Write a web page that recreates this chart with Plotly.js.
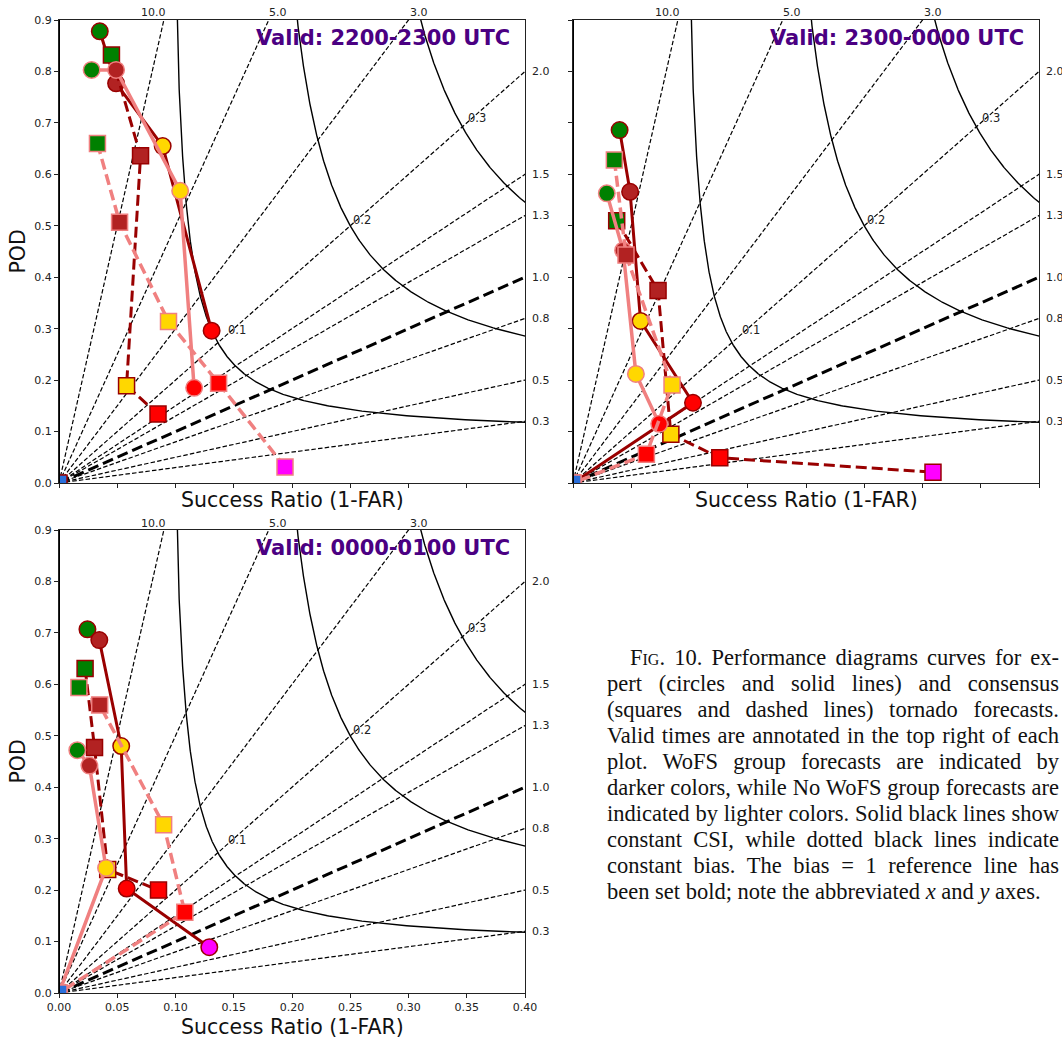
<!DOCTYPE html>
<html>
<head>
<meta charset="utf-8">
<script src="https://cdn.plot.ly/plotly-3.0.1.min.js"></script>
<style>
  html, body { margin: 0; padding: 0; background: #ffffff; }
  #chart { position: absolute; left: 0; top: 0; width: 1062px; height: 1038px; }
  #caption { position: absolute; left: 607px; top: 645px; width: 452px; z-index: 10;
             font-family: "Liberation Serif", "Times New Roman", serif; font-size: 22.5px;
             line-height: 26px; color: #111; }
  #caption div { text-align: justify; text-align-last: justify; white-space: nowrap; }
  #caption div.last { text-align: left; text-align-last: left; }
  .sc { font-variant: small-caps; }
</style>
</head>
<body>
<div id="chart"></div>
<div id="caption">
  <div style="text-indent:23px"><span class="sc">Fig</span>. 10. Performance diagrams curves for ex-</div>
  <div>pert (circles and solid lines) and consensus</div>
  <div>(squares and dashed lines) tornado forecasts.</div>
  <div>Valid times are annotated in the top right of each</div>
  <div>plot. WoFS group forecasts are indicated by</div>
  <div>darker colors, while No WoFS group forecasts are</div>
  <div>indicated by lighter colors. Solid black lines show</div>
  <div>constant CSI, while dotted black lines indicate</div>
  <div>constant bias. The bias = 1 reference line has</div>
  <div class="last">been set bold; note the abbreviated <i>x</i> and <i>y</i> axes.</div>
</div>
<script>
// ---------------- DATA ----------------
const panelTitles = ['Valid: 2200-2300 UTC', 'Valid: 2300-0000 UTC', 'Valid: 0000-0100 UTC'];
const biasValues = [0.3, 0.5, 0.8, 1.0, 1.3, 1.5, 2.0, 3.0, 5.0, 10.0];
const csiValues = [0.1, 0.2, 0.3];
const csiLabels = ['0.1', '0.2', '0.3'];
const xTickLabels = ['0.00', '0.05', '0.10', '0.15', '0.20', '0.25', '0.30', '0.35', '0.40'];
const yTickLabels = ['0.0', '0.1', '0.2', '0.3', '0.4', '0.5', '0.6', '0.7', '0.8', '0.9'];
// probability thresholds (marker face colours follow these levels)
const thresholdLevels = ['2%', '5%', '10%', '15%', '30%', '45%'];

// Panel 1: Valid 2200-2300 UTC
const p1ExpertWoFS_SR    = [0.035, 0.049, 0.089, 0.131, null, null];
const p1ExpertWoFS_POD   = [0.878, 0.777, 0.655, 0.296, null, null];
const p1ConsWoFS_SR      = [0.045, 0.070, 0.058, 0.085, null, 0.0];
const p1ConsWoFS_POD     = [0.832, 0.636, 0.189, 0.134, null, 0.0];
const p1ExpertNoWoFS_SR  = [0.028, 0.049, 0.104, 0.116, null, null];
const p1ExpertNoWoFS_POD = [0.803, 0.803, 0.568, 0.185, null, null];
const p1ConsNoWoFS_SR    = [0.033, 0.052, 0.094, 0.137, 0.194, null];
const p1ConsNoWoFS_POD   = [0.660, 0.507, 0.314, 0.194, 0.031, null];

// Panel 2: Valid 2300-0000 UTC
const p2ExpertWoFS_SR    = [0.040, 0.049, 0.058, 0.103, 0.0, null];
const p2ExpertWoFS_POD   = [0.686, 0.566, 0.315, 0.156, 0.0, null];
const p2ConsWoFS_SR      = [0.0375, 0.073, 0.084, 0.126, 0.309, null];
const p2ConsWoFS_POD     = [0.510, 0.374, 0.095, 0.049, 0.021, null];
const p2ExpertNoWoFS_SR  = [0.029, 0.043, 0.054, 0.074, null, null];
const p2ExpertNoWoFS_POD = [0.563, 0.452, 0.212, 0.115, null, null];
const p2ConsNoWoFS_SR    = [0.0355, 0.0455, 0.085, 0.063, 0.0, 0.0];
const p2ConsNoWoFS_POD   = [0.628, 0.443, 0.1905, 0.056, 0.0, 0.0];

// Panel 3: Valid 0000-0100 UTC
const p3ExpertWoFS_SR    = [0.0244, 0.0346, 0.0534, 0.0581, 0.129, null];
const p3ExpertWoFS_POD   = [0.707, 0.686, 0.480, 0.203, 0.089, null];
const p3ConsWoFS_SR      = [0.0224, 0.0305, 0.0418, 0.0854, null, null];
const p3ConsWoFS_POD     = [0.631, 0.477, 0.240, 0.200, null, null];
const p3ExpertNoWoFS_SR  = [0.0157, 0.0261, 0.0404, 0.0, null, null];
const p3ExpertNoWoFS_POD = [0.472, 0.442, 0.243, 0.0, null, null];
const p3ConsNoWoFS_SR    = [0.0171, 0.0349, 0.0898, 0.108, 0.0, 0.0];
const p3ConsNoWoFS_POD   = [0.594, 0.560, 0.327, 0.157, 0.0, 0.0];

// ---------------- STYLE ----------------
const thresholdColors = ['#008000', '#B22222', '#FFD700', '#FF0000', '#FF00FF', '#2a6fdb'];
const DARK = '#990000', LIGHT = '#F08080';
const seriesStyles = {
  expertWoFS:   {line: DARK,  width: 3,   dash: 'solid',    symbol: 'circle', size: 16.5, edge: DARK},
  consWoFS:     {line: DARK,  width: 3,   dash: '11px,5px', symbol: 'square', size: 16,   edge: DARK},
  expertNoWoFS: {line: LIGHT, width: 3.5, dash: 'solid',    symbol: 'circle', size: 16.5, edge: LIGHT},
  consNoWoFS:   {line: LIGHT, width: 3.5, dash: '11px,5px', symbol: 'square', size: 16,   edge: LIGHT}
};
const W = 1062, H = 1038;
const FONT = 'DejaVu Sans, sans-serif';
const csiLabelPos = [[0.1528, 0.2974], [0.2601, 0.5113], [0.3585, 0.7095]];
const topBiasShift = {3: 10, 5: 9, 10: -10};

const panels = [
  {px: [59, 525], py: [20, 483], showX: false, showY: true, xlabY: 500,
   series: [['expertWoFS', p1ExpertWoFS_SR, p1ExpertWoFS_POD], ['consWoFS', p1ConsWoFS_SR, p1ConsWoFS_POD],
            ['expertNoWoFS', p1ExpertNoWoFS_SR, p1ExpertNoWoFS_POD], ['consNoWoFS', p1ConsNoWoFS_SR, p1ConsNoWoFS_POD]]},
  {px: [573, 1039], py: [20, 483], showX: false, showY: false, xlabY: 500,
   series: [['expertWoFS', p2ExpertWoFS_SR, p2ExpertWoFS_POD], ['consWoFS', p2ConsWoFS_SR, p2ConsWoFS_POD],
            ['expertNoWoFS', p2ExpertNoWoFS_SR, p2ExpertNoWoFS_POD], ['consNoWoFS', p2ConsNoWoFS_SR, p2ConsNoWoFS_POD]]},
  {px: [59, 525], py: [530, 993], showX: true, showY: true, xlabY: 1027,
   series: [['expertWoFS', p3ExpertWoFS_SR, p3ExpertWoFS_POD], ['consWoFS', p3ConsWoFS_SR, p3ConsWoFS_POD],
            ['expertNoWoFS', p3ExpertNoWoFS_SR, p3ExpertNoWoFS_POD], ['consNoWoFS', p3ConsNoWoFS_SR, p3ConsNoWoFS_POD]]}
];

function csiCurve(c) {
  // sample along rays from the origin (angle in pixel space) for a smooth curve
  const xs = [], ys = [];
  const n = 600, aspect = 1165 / 514.4;
  for (let k = 1; k < n; k++) {
    const th = (Math.PI / 2) * k / n;
    const b = Math.tan(th) * aspect;
    const sr = (1 + 1 / b) / (1 / c + 1);
    const pod = b * sr;
    if (sr <= 0.6 && pod <= 1.2) { xs.push(sr); ys.push(pod); }
  }
  return {xs, ys};
}

const traces = [], annotations = [], shapes = [];
const layout = {
  width: W, height: H, margin: {l: 0, r: 0, t: 0, b: 0},
  paper_bgcolor: '#ffffff', plot_bgcolor: '#ffffff', showlegend: false,
  font: {family: FONT, color: '#000'}
};
const xTickVals = xTickLabels.map(parseFloat);
const yTickVals = yTickLabels.map(parseFloat);

panels.forEach((p, i) => {
  const xa = i === 0 ? 'x' : 'x' + (i + 1);
  const ya = i === 0 ? 'y' : 'y' + (i + 1);
  const axisCommon = {
    showline: true, mirror: true, linecolor: '#222', linewidth: 1,
    ticks: 'outside', ticklen: 4, tickwidth: 1, tickcolor: '#222',
    showgrid: false, zeroline: false, fixedrange: true, automargin: false,
    tickfont: {family: FONT, size: 11, color: '#222'}, tickmode: 'array'
  };
  layout['xaxis' + (i === 0 ? '' : i + 1)] = Object.assign({}, axisCommon, {
    domain: [p.px[0] / W, p.px[1] / W], range: [0, 0.4], anchor: ya,
    tickvals: xTickVals, ticktext: xTickLabels, showticklabels: p.showX
  });
  layout['yaxis' + (i === 0 ? '' : i + 1)] = Object.assign({}, axisCommon, {
    domain: [1 - p.py[1] / H, 1 - p.py[0] / H], range: [0, 0.9], anchor: xa,
    tickvals: yTickVals, ticktext: yTickLabels, showticklabels: p.showY
  });

  // constant-bias lines
  biasValues.forEach(b => {
    traces.push({x: [0, 0.5], y: [0, 0.5 * b], xaxis: xa, yaxis: ya, mode: 'lines',
      line: {color: '#000', width: b === 1 ? 3 : 1.2, dash: b === 1 ? '11px,5px' : '4.5px,2.2px'},
      hoverinfo: 'skip'});
    if (b <= 2) {
      annotations.push({x: 0.4, y: 0.4 * b, xref: xa, yref: ya, text: b.toFixed(1), showarrow: false,
        xanchor: 'left', yanchor: 'middle', xshift: 5, font: {family: FONT, size: 11, color: '#222'}});
    } else {
      annotations.push({x: 0.9 / b, y: 0.9, xref: xa, yref: ya, text: b.toFixed(1), showarrow: false,
        xanchor: 'center', yanchor: 'middle', yshift: 7, xshift: topBiasShift[b],
        font: {family: FONT, size: 11, color: '#222'}});
    }
  });

  // constant-CSI contours
  csiValues.forEach((c, k) => {
    const cv = csiCurve(c);
    traces.push({x: cv.xs, y: cv.ys, xaxis: xa, yaxis: ya, mode: 'lines',
      line: {color: '#000', width: 1.4}, hoverinfo: 'skip'});
    annotations.push({x: csiLabelPos[k][0], y: csiLabelPos[k][1], xref: xa, yref: ya, text: csiLabels[k],
      showarrow: false, xanchor: 'center', yanchor: 'middle', font: {family: FONT, size: 11.5, color: '#222'}});
  });

  // thick left spine
  shapes.push({type: 'line', xref: xa, yref: ya, x0: 0, x1: 0, y0: 0, y1: 0.9, line: {color: '#000', width: 2}});

  // forecast series
  p.series.forEach(([kind, sr, pod]) => {
    const st = seriesStyles[kind];
    traces.push({x: sr, y: pod, xaxis: xa, yaxis: ya, mode: 'lines+markers', connectgaps: false,
      line: {color: st.line, width: st.width, dash: st.dash},
      marker: {symbol: st.symbol, size: st.size, color: thresholdColors, line: {color: st.edge, width: 1.5}},
      text: thresholdLevels, hoverinfo: 'skip', cliponaxis: true});
  });

  // panel title
  annotations.push({x: 0.972, y: 0.961, xref: xa + ' domain', yref: ya + ' domain', text: '<b>' + panelTitles[i] + '</b>',
    showarrow: false, xanchor: 'right', yanchor: 'middle', font: {family: FONT, size: 21, color: '#4B0082'}});

  // axis titles
  annotations.push({x: (p.px[0] + p.px[1]) / 2 / W, y: 1 - p.xlabY / H, xref: 'paper', yref: 'paper',
    text: 'Success Ratio (1-FAR)', showarrow: false, xanchor: 'center', yanchor: 'middle',
    font: {family: FONT, size: 20.5, color: '#111'}});
  if (p.showY) {
    annotations.push({x: 17 / W, y: 1 - (p.py[0] + p.py[1]) / 2 / H, xref: 'paper', yref: 'paper',
      text: 'POD', textangle: -90, showarrow: false, xanchor: 'center', yanchor: 'middle',
      font: {family: FONT, size: 20.5, color: '#111'}});
  }
});

layout.annotations = annotations;
layout.shapes = shapes;
traces.forEach(t => { t.showlegend = false; });
Plotly.newPlot('chart', traces, layout, {staticPlot: true, displayModeBar: false});
</script>
</body>
</html>
